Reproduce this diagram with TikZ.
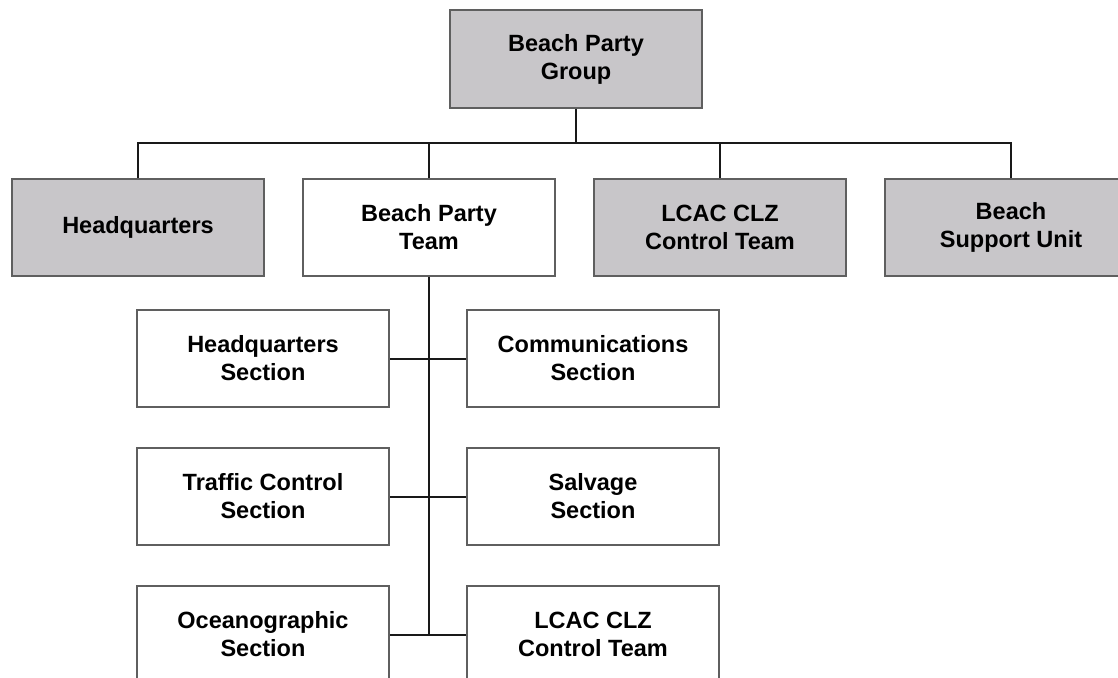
\documentclass[tikz,border=0pt]{standalone}
\usepackage{fontspec}
\setmainfont{Liberation Sans}
\usepackage{tikz}
\usetikzlibrary{positioning}

\definecolor{boxgray}{RGB}{200,198,201}
\definecolor{edgegray}{RGB}{95,95,95}
\definecolor{linedark}{RGB}{25,25,25}

\tikzset{
  unit/.style={draw=edgegray, line width=2pt, minimum width=252pt,
    minimum height=97pt, inner sep=0pt, align=center,
    font=\bfseries\fontsize{23.5}{28}\selectfont},
  shaded/.style={unit, fill=boxgray},
  plain/.style={unit, fill=white},
  link/.style={draw=linedark, line width=2pt}
}

\begin{document}
\begin{tikzpicture}[x=1pt,y=1pt]
  \useasboundingbox (0,0) rectangle (1118,-677);
  % Create nodes
  \node[shaded] (BPG) at (576,-59) {Beach Party\\Group};
  \node[shaded] (HQ) at (138,-227.5) {Headquarters};
  \node[plain] (BPT) [right = 37pt of HQ] {Beach Party\\Team};
  \node[shaded] (LCAC) [right = 37pt of BPT] {LCAC CLZ\\Control Team};
  \node[shaded] (BSU) [right = 37pt of LCAC] {Beach\\Support Unit};

  \node[plain] (HQS) at (263,-358.5) {Headquarters\\Section};
  \node[plain] (COM) [right = 76pt of HQS] {Communications\\Section};
  \node[plain] (TCS) [below = 39pt of HQS] {Traffic Control\\Section};
  \node[plain] (SAL) [below = 39pt of COM] {Salvage\\Section};
  \node[plain] (OCS) [below = 39pt of TCS] {Oceanographic\\Section};
  \node[plain] (CLZ) [below = 39pt of SAL] {LCAC CLZ\\Control Team};

  % 
  \path[link] (HQ.north) -- ++(0,35) coordinate (bus) -| (BSU.north);
  \path[link] (BPG.south) -- (BPG.south |- bus);
  \path[link] (BPT.north) -- (BPT.north |- bus);
  \path[link] (LCAC.north) -- (LCAC.north |- bus);
  \path[link] (BPT.south) -- (BPT.south |- OCS.east);
  \path[link] (HQS.east) -- (COM.west);
  \path[link] (TCS.east) -- (SAL.west);
  \path[link] (OCS.east) -- (CLZ.west);
\end{tikzpicture}
\end{document}
